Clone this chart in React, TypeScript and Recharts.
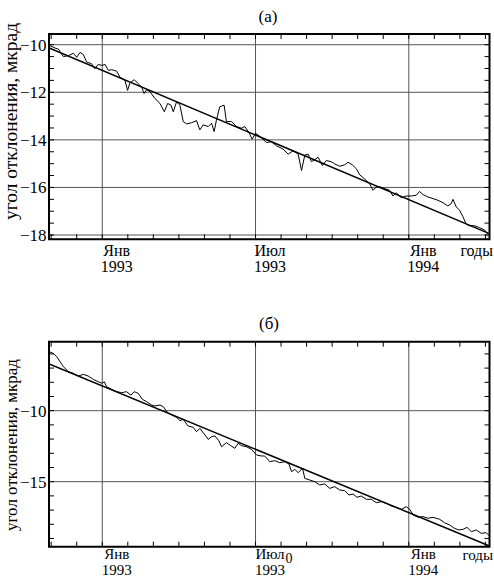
import React from 'react';
import { LineChart, Line, XAxis, YAxis, ReferenceLine, ReferenceArea } from 'recharts';

// months counted from January 1993
const monthTicks = [-2, -1, 0, 1, 2, 3, 4, 5, 6, 7, 8, 9, 10, 11, 12, 13, 14, 15];
const gridMonths = [0, 6, 12];
const monthLabels = ['Янв', 'Июл', 'Янв'];
const yearLabels = ['1993', '1993', '1994'];

// panel (а)
const aMinorTicks = [-18, -17.5, -17, -16.5, -16, -15.5, -15, -14.5, -14, -13.5, -13, -12.5, -12, -11.5, -11, -10.5, -10];
const aLabelTicks = [-18, -16, -14, -12, -10];
const aNoiseMonths = [
  -2.05, -1.85, -1.72, -1.52, -1.33, -1.13, -1.0, -0.87, -0.74, -0.61,
  -0.42, -0.29, -0.16, -0.02, 0.11, 0.24, 0.37, 0.56, 0.69, 0.89,
  0.99, 1.08, 1.25, 1.38, 1.54, 1.64, 1.74, 1.87, 2.06, 2.26,
  2.43, 2.56, 2.69, 2.78, 2.91, 3.04, 3.17, 3.3, 3.5, 3.69,
  3.82, 3.95, 4.15, 4.28, 4.38, 4.47, 4.6, 4.77, 4.86, 5.06,
  5.26, 5.45, 5.58, 5.74, 5.87, 6.0, 6.17, 6.43, 6.62, 6.82,
  7.08, 7.28, 7.47, 7.67, 7.8, 7.93, 8.06, 8.19, 8.32, 8.45,
  8.62, 8.77, 8.97, 9.1, 9.3, 9.49, 9.62, 9.79, 9.95, 10.08,
  10.27, 10.47, 10.6, 10.73, 10.89, 11.06, 11.25, 11.38, 11.51, 11.71,
  11.9, 12.1, 12.29, 12.42, 12.56, 12.75, 12.95, 13.14, 13.34, 13.53,
  13.66, 13.73, 13.86, 13.99, 14.12, 14.25, 14.38, 14.58, 14.77, 14.97,
  15.1,
];
const aNoiseValues = [
  -10.04, -10.14, -10.18, -10.5, -10.46, -10.36, -10.53, -10.32, -10.42, -10.73,
  -10.8, -11.01, -10.83, -10.87, -10.83, -11.08, -11.05, -11.11, -11.36, -11.5,
  -11.92, -11.61, -11.47, -11.61, -11.78, -12.05, -11.89, -11.98, -12.26, -12.47,
  -12.82, -12.47, -12.54, -12.82, -12.4, -12.54, -13.23, -13.33, -13.28, -13.19,
  -13.58, -13.37, -13.44, -13.3, -13.65, -13.17, -12.61, -12.54, -13.23, -13.23,
  -13.44, -13.51, -13.44, -13.69, -13.97, -13.72, -13.86, -14.11, -14.08, -14.25,
  -14.39, -14.6, -14.46, -14.6, -15.29, -14.64, -14.6, -14.92, -14.83, -14.73,
  -15.08, -14.87, -14.92, -15.01, -15.11, -15.05, -14.94, -15.05, -15.22, -15.47,
  -15.64, -15.85, -16.12, -15.98, -15.98, -16.05, -16.12, -16.36, -16.22, -16.44,
  -16.36, -16.36, -16.33, -16.17, -16.3, -16.4, -16.47, -16.54, -16.64, -16.78,
  -16.68, -16.5, -16.82, -16.96, -17.23, -17.55, -17.61, -17.61, -17.69, -17.79,
  -17.97,
];
const aFitMonths = [-2.08, 15.13];
const aFitValues = [-10.14, -17.93];

// panel (б)
const bMinorTicks = [-19, -18, -17, -16, -15, -14, -13, -12, -11, -10, -9, -8, -7, -6];
const bLabelTicks = [-15, -10];
const bNoiseMonths = [
  -2.08, -1.92, -1.78, -1.65, -1.52, -1.33, -1.13, -0.94, -0.74, -0.55,
  -0.35, -0.16, 0.0, 0.08, 0.17, 0.37, 0.56, 0.76, 0.95, 1.12,
  1.25, 1.41, 1.57, 1.74, 1.93, 2.06, 2.26, 2.39, 2.56, 2.71,
  2.91, 3.04, 3.17, 3.36, 3.56, 3.69, 3.82, 3.99, 4.15, 4.28,
  4.41, 4.56, 4.67, 4.86, 5.03, 5.19, 5.32, 5.45, 5.65, 5.84,
  6.04, 6.23, 6.36, 6.56, 6.75, 6.95, 7.15, 7.31, 7.41, 7.54,
  7.67, 7.84, 7.93, 8.12, 8.32, 8.51, 8.71, 8.91, 9.1, 9.3,
  9.49, 9.66, 9.82, 9.97, 10.14, 10.34, 10.53, 10.73, 10.93, 11.12,
  11.32, 11.51, 11.71, 11.9, 12.04, 12.17, 12.37, 12.56, 12.75, 12.95,
  13.21, 13.4, 13.6, 13.79, 13.96, 14.12, 14.28, 14.45, 14.64, 14.84,
  15.03, 15.16,
];
const bNoiseValues = [
  -5.84, -5.96, -6.2, -6.55, -6.9, -7.25, -7.37, -7.56, -7.44, -7.56,
  -7.79, -7.96, -8.07, -7.96, -8.31, -8.5, -8.66, -8.73, -8.66, -8.9,
  -8.66, -8.78, -9.2, -9.37, -9.6, -9.67, -9.6, -9.72, -10.14, -10.3,
  -10.47, -10.7, -10.61, -11.08, -11.17, -11.48, -11.24, -11.64, -12.02, -11.83,
  -11.78, -12.11, -12.54, -12.25, -12.46, -12.65, -12.3, -12.46, -12.54, -12.72,
  -13.12, -13.19, -13.19, -13.59, -13.52, -13.66, -13.59, -13.76, -14.3, -14.13,
  -14.37, -14.06, -14.77, -14.88, -15.0, -15.23, -15.16, -15.47, -15.35, -15.59,
  -15.63, -15.94, -15.87, -16.1, -16.01, -16.24, -16.24, -16.48, -16.41, -16.53,
  -16.71, -16.81, -16.95, -16.76, -16.95, -17.35, -17.51, -17.46, -17.58, -17.51,
  -17.65, -17.89, -18.05, -18.29, -18.4, -18.36, -18.22, -18.52, -18.4, -18.64,
  -18.59, -18.83,
];
const bFitMonths = [-2.08, 15.16];
const bFitValues = [-6.71, -19.53];

const FONT = "'Liberation Serif', 'Times New Roman', serif";
const X_DOMAIN: [number, number] = [-2.085, 15.16];
const PLOT_LEFT = 49;
const PLOT_RIGHT = 489.5;

const toPoints = (xs: number[], ys: number[]) => xs.map((x, i) => ({ x, y: ys[i] }));

interface PanelProps {
  top: number;
  height: number;
  marginTop: number;
  plotHeight: number;
  yDomain: [number, number];
  minorTicks: number[];
  labelTicks: number[];
  noise: { x: number; y: number }[];
  fit: { x: number; y: number }[];
  line1: number;
  line2: number;
  xFont: number;
}

function Panel(p: PanelProps) {
  const plotTop = p.marginTop;
  const plotBottom = p.marginTop + p.plotHeight;

  const xTick = (props: any) => {
    const { x, payload } = props;
    const idx = gridMonths.indexOf(payload.value);
    return (
      <g>
        <line x1={x} x2={x} y1={plotBottom} y2={plotBottom - 5} stroke="#000" />
        <line x1={x} x2={x} y1={plotTop} y2={plotTop + 5} stroke="#000" />
        {idx >= 0 && (
          <text x={x + 14.5} y={plotBottom + p.line1} textAnchor="middle" fontSize={p.xFont} style={{ fontFamily: FONT }} fill="#000">
            {monthLabels[idx]}
          </text>
        )}
        {idx >= 0 && (
          <text x={x + 14.5} y={plotBottom + p.line2} textAnchor="middle" fontSize={p.xFont} style={{ fontFamily: FONT }} fill="#000">
            {yearLabels[idx]}
          </text>
        )}
      </g>
    );
  };

  const yTick = (props: any) => {
    const { y, payload } = props;
    const v = payload.value;
    const labelled = p.labelTicks.includes(v);
    return (
      <g>
        <line x1={PLOT_LEFT} x2={PLOT_LEFT + 5} y1={y} y2={y} stroke="#000" />
        <line x1={PLOT_RIGHT - 5} x2={PLOT_RIGHT} y1={y} y2={y} stroke="#000" />
        {labelled && (
          <text x={46.5} y={y} dy="0.35em" textAnchor="end" fontSize={17} style={{ fontFamily: FONT }} fill="#000">
            {String(v).replace('-', '−')}
          </text>
        )}
      </g>
    );
  };

  return (
    <div style={{ position: 'absolute', left: 0, top: p.top }}>
      <LineChart
        width={494}
        height={p.height}
        margin={{ top: p.marginTop, right: 494 - PLOT_RIGHT, bottom: 0, left: 0 }}
      >
        <XAxis
          type="number"
          dataKey="x"
          domain={X_DOMAIN}
          allowDataOverflow
          ticks={monthTicks}
          interval={0}
          tick={xTick}
          tickLine={false}
          axisLine={false}
          height={p.height - p.marginTop - p.plotHeight}
        />
        <YAxis
          type="number"
          dataKey="y"
          domain={p.yDomain}
          allowDataOverflow
          ticks={p.minorTicks}
          interval={0}
          tick={yTick}
          tickLine={false}
          axisLine={false}
          width={PLOT_LEFT}
        />
        {gridMonths.map((m) => (
          <ReferenceLine key={'v' + m} x={m} stroke="#555" strokeWidth={1} />
        ))}
        {p.labelTicks.map((v) => (
          <ReferenceLine key={'h' + v} y={v} stroke="#555" strokeWidth={1} />
        ))}
        <ReferenceArea
          x1={X_DOMAIN[0]}
          x2={X_DOMAIN[1]}
          y1={p.yDomain[0]}
          y2={p.yDomain[1]}
          fill="none"
          stroke="#000"
          strokeWidth={2}
          ifOverflow="visible"
        />
        <Line data={p.fit} dataKey="y" type="linear" dot={false} stroke="#000" strokeWidth={1.5} isAnimationActive={false} />
        <Line data={p.noise} dataKey="y" type="linear" dot={false} stroke="#000" strokeWidth={1} isAnimationActive={false} />
      </LineChart>
    </div>
  );
}

export default function App() {
  return (
    <div style={{ position: 'absolute', left: 0, top: 0, width: 494, height: 578, background: '#fff' }}>
      <Panel
        top={0}
        height={290}
        marginTop={34}
        plotHeight={205.3}
        yDomain={[-18.18, -9.55]}
        minorTicks={aMinorTicks}
        labelTicks={aLabelTicks}
        noise={toPoints(aNoiseMonths, aNoiseValues)}
        fit={toPoints(aFitMonths, aFitValues)}
        line1={17}
        line2={33}
        xFont={16}
      />
      <Panel
        top={300}
        height={278}
        marginTop={41.7}
        plotHeight={205}
        yDomain={[-19.58, -5.14]}
        minorTicks={bMinorTicks}
        labelTicks={bLabelTicks}
        noise={toPoints(bNoiseMonths, bNoiseValues)}
        fit={toPoints(bFitMonths, bFitValues)}
        line1={12.5}
        line2={28}
        xFont={15}
      />
      <svg width={494} height={578} style={{ position: 'absolute', left: 0, top: 0, pointerEvents: 'none', fontFamily: FONT }}>
        <g fill="#000">
          <text x={268} y={22} textAnchor="middle" fontSize={17}>(а)</text>
          <text x={269} y={329} textAnchor="middle" fontSize={17}>(б)</text>
          <text x={17} y={121.5} textAnchor="middle" fontSize={19.5} transform="rotate(-90 17 121.5)">
            угол отклонения, мкрад
          </text>
          <text x={17} y={445} textAnchor="middle" fontSize={17} transform="rotate(-90 17 445)">
            угол отклонения, мкрад
          </text>
          <text x={493} y={256} textAnchor="end" fontSize={16}>годы</text>
          <text x={493} y={559.5} textAnchor="end" fontSize={15}>годы</text>
          <text x={289} y={563} textAnchor="middle" fontSize={14}>0</text>
        </g>
      </svg>
    </div>
  );
}
